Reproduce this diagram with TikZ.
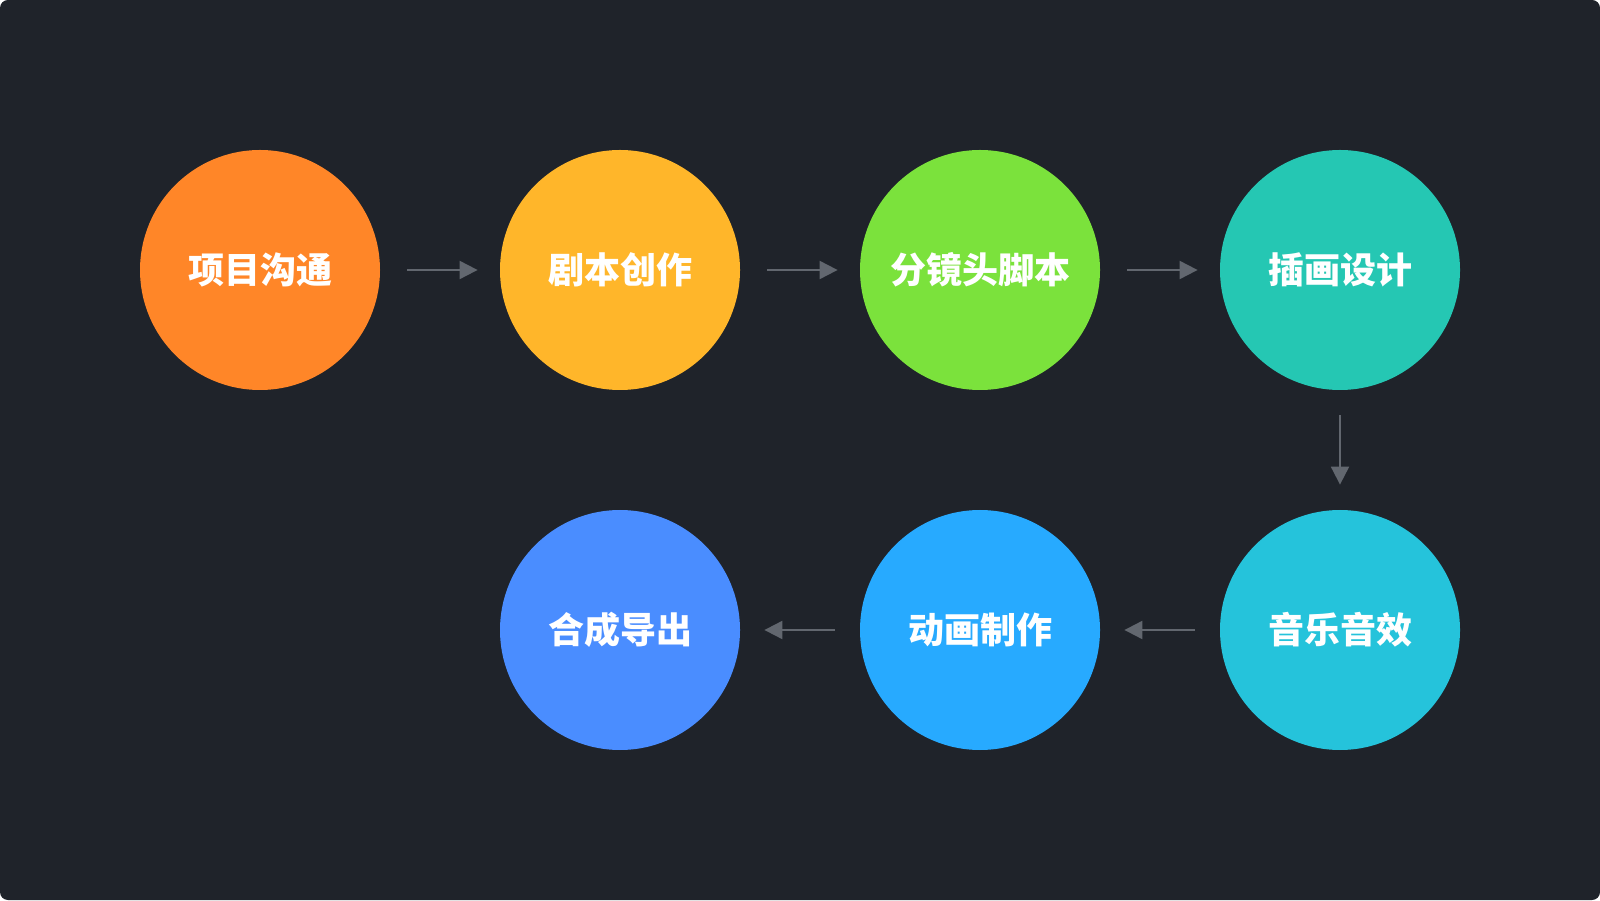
\documentclass[tikz,border=0pt]{standalone}
\usepackage{fontspec}
\setmainfont{Noto Sans CJK SC}
\usetikzlibrary{arrows.meta}

\definecolor{bgcol}{HTML}{1F232A}
\definecolor{arrcol}{HTML}{62676F}
\definecolor{colorone}{HTML}{FF8628}
\definecolor{colortwo}{HTML}{FFB62A}
\definecolor{colorthree}{HTML}{7BE23C}
\definecolor{colorfour}{HTML}{25C7B3}
\definecolor{colorfive}{HTML}{25C3DB}
\definecolor{colorsix}{HTML}{27AAFF}
\definecolor{colorseven}{HTML}{4A8DFF}

\begin{document}
\begin{tikzpicture}[x=0.5pt,y=0.5pt,
  stepsty/.style={circle,minimum size=120pt,inner sep=0pt,text=white,
    font=\fontsize{18}{20}\selectfont\bfseries},
  arr/.style={draw=arrcol,line width=1pt,-{Triangle[length=9pt,width=9pt]},
    shorten <=13.5pt,shorten >=11pt}]
  \useasboundingbox (0,0) rectangle (1600,900);
  \fill[bgcol,rounded corners=4pt] (0,0) rectangle (1600,900);

  \node[stepsty,fill=colorone] (xmgt) at (260,630) {项目沟通};
  \node[stepsty,fill=colortwo] (jbcz) at (620,630) {剧本创作};
  \node[stepsty,fill=colorthree] (fjjb) at (980,630) {分镜头脚本};
  \node[stepsty,fill=colorfour] (chsj) at (1340,630) {插画设计};

  \node[stepsty,fill=colorfive] (yyyx) at (1340,270) {音乐音效};
  \node[stepsty,fill=colorsix] (dhzz) at (980,270) {动画制作};
  \node[stepsty,fill=colorseven] (hcdc) at (620,270) {合成导出};

  \draw[arr] (xmgt) -- (jbcz);
  \draw[arr] (jbcz) -- (fjjb);
  \draw[arr] (fjjb) -- (chsj);
  \draw[arr,shorten <=12.5pt,shorten >=12.5pt] (chsj) -- (yyyx);
  \draw[arr,shorten <=12.5pt,shorten >=12pt] (yyyx) -- (dhzz);
  \draw[arr,shorten <=12.5pt,shorten >=12pt] (dhzz) -- (hcdc);
\end{tikzpicture}
\end{document}
